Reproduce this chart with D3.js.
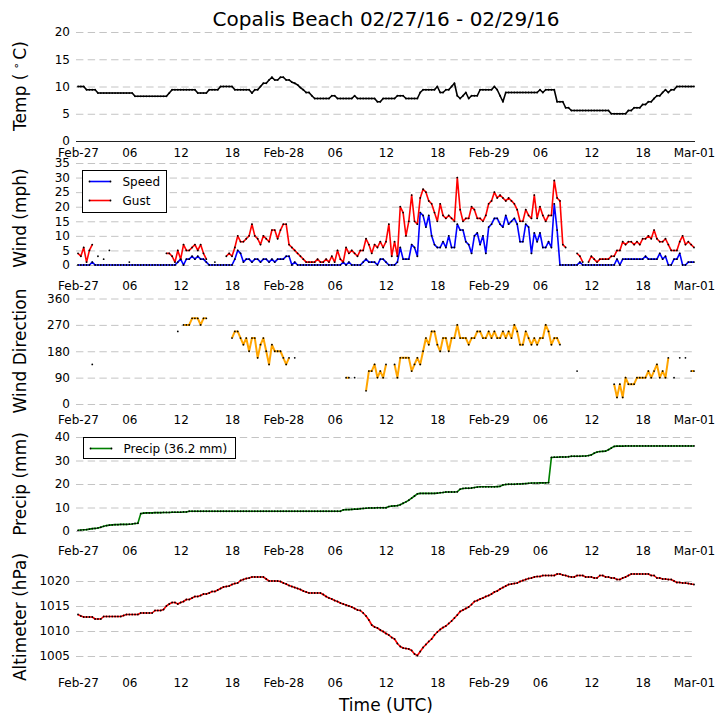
<!DOCTYPE html>
<html>
<head>
<meta charset="utf-8">
<script src="https://cdn.jsdelivr.net/npm/d3@7"></script>
<style>
  body { margin: 0; background: #fff; }
  svg { display: block; font-family: "DejaVu Sans", sans-serif; }
</style>
</head>
<body>
<div class="container"></div>
<script>
const w = 726;
const h = 725;
const n = null;

// one reading every 20 minutes, 02/27 00:00 UTC -> 03/01 00:00 UTC (217 readings)
const start = Date.UTC(2016, 1, 27);
const stepMin = 20;
const tickLabels = ['Feb-27', '06', '12', '18', 'Feb-28', '06', '12', '18', 'Feb-29', '06', '12', '18', 'Mar-01'];

const temp = [
  10.0, 10.0, 10.0, 9.4, 9.4, 9.4, 9.4, 8.8, 8.8, 8.8, 8.8, 8.8,
  8.8, 8.8, 8.8, 8.8, 8.8, 8.8, 8.8, 8.8, 8.2, 8.2, 8.2, 8.2,
  8.2, 8.2, 8.2, 8.2, 8.2, 8.2, 8.2, 8.2, 8.8, 9.4, 9.4, 9.4,
  9.4, 9.4, 9.4, 9.4, 9.4, 9.4, 8.8, 8.8, 8.8, 8.8, 9.4, 9.4,
  9.4, 9.4, 10.0, 10.0, 10.0, 10.0, 10.0, 9.4, 9.4, 9.4, 9.4, 9.4,
  9.4, 8.8, 9.4, 9.4, 10.0, 10.6, 10.6, 11.2, 11.7, 11.2, 11.2, 11.7,
  11.7, 11.2, 11.2, 10.8, 10.6, 10.3, 9.8, 9.4, 8.9, 8.9, 8.3, 7.8,
  7.8, 7.8, 7.8, 7.8, 7.8, 8.3, 8.3, 7.8, 7.8, 7.8, 7.8, 7.8,
  7.8, 8.3, 7.8, 7.8, 7.8, 7.8, 7.8, 7.8, 7.8, 7.2, 7.2, 7.8,
  7.8, 7.8, 7.8, 7.8, 8.3, 8.3, 8.3, 7.8, 7.8, 7.8, 7.8, 7.8,
  8.9, 9.4, 9.4, 9.4, 9.4, 9.4, 10.0, 8.9, 8.9, 9.4, 9.4, 10.0,
  10.6, 8.3, 7.8, 8.3, 8.9, 7.8, 8.3, 8.3, 8.3, 9.4, 9.4, 9.4,
  9.4, 9.4, 10.0, 9.4, 8.3, 7.2, 8.9, 8.9, 8.9, 8.9, 8.9, 8.9,
  8.9, 8.9, 8.9, 8.9, 8.9, 8.9, 9.4, 8.9, 9.4, 9.4, 9.4, 9.4,
  7.2, 7.2, 7.2, 6.1, 6.1, 5.6, 5.6, 5.6, 5.6, 5.6, 5.6, 5.6,
  5.6, 5.6, 5.6, 5.6, 5.6, 5.6, 5.6, 5.0, 5.0, 5.0, 5.0, 5.0,
  5.0, 5.6, 5.6, 6.1, 6.1, 6.1, 6.7, 6.7, 7.2, 7.2, 7.8, 8.3,
  8.3, 8.9, 9.4, 8.9, 9.4, 9.4, 10.0, 10.0, 10.0, 10.0, 10.0, 10.0,
  10.0
];

const speed = [
  0, 0, 0, 0, 0, 1, 0, 0, 0, 0, 0, 0,
  0, 0, 0, 0, 0, 0, 0, 0, 0, 0, 0, 0,
  0, 0, 0, 0, 0, 0, 0, 0, 0, 0, 0, 1,
  2, 0, 2, 2, 3, 2, 3, 2, 2, 1, 0, 0,
  0, 0, 0, 0, 0, 0, 0, 2, 5, 4, 1, 2,
  2, 1, 2, 2, 1, 2, 2, 1, 2, 1, 2, 2,
  2, 3, 3, 0, 1, 0, 0, 0, 0, 0, 0, 0,
  0, 0, 0, 0, 0, 0, 0, 0, 0, 1, 0, 1,
  0, 0, 0, 0, 1, 2, 1, 1, 1, 0, 2, 2,
  1, 0, 0, 0, 1, 6, 2, 2, 2, 7, 6, 3,
  18, 17, 13, 17, 10, 7, 6, 6, 8, 6, 10, 6,
  6, 14, 12, 12, 8, 7, 4, 10, 11, 7, 10, 4,
  13, 14, 16, 16, 14, 13, 17, 14, 15, 16, 14, 8,
  8, 14, 13, 4, 11, 8, 11, 6, 6, 8, 6, 21,
  12, 0, 0, 0, 0, 0, 0, 0, 1, 0, 0, 0,
  0, 0, 0, 0, 0, 0, 0, 0, 0, 2, 0, 2,
  2, 2, 2, 2, 2, 2, 2, 3, 2, 2, 2, 2,
  4, 2, 3, 0, 0, 2, 2, 4, 0, 0, 1, 1,
  1
];

const gust = [
  4, 3, 6, 1, 5, 7, n, 3, n, 2, n, 5,
  n, n, n, n, n, n, 1, n, n, n, n, n,
  n, n, n, n, n, n, n, 4, 4, 3, 1, 5,
  2, 7, 5, 5, 6, 7, 5, 7, 4, 2, n, n,
  1, n, n, n, 3, 4, 3, 6, 10, 8, 8, 9,
  10, 14, 10, 9, 7, 10, 9, 8, 12, 12, 9, 12,
  14, 14, 7, 6, 5, 4, 3, 2, 1, 1, 1, 1,
  2, 1, 1, 2, 1, 3, 1, 5, 2, 1, 6, 4,
  5, 4, 3, 5, 5, 9, 7, 4, 7, 6, 8, 6,
  8, 14, 3, 8, 3, 20, 18, 10, 15, 24, 15, 14,
  23, 26, 25, 22, 21, 18, 15, 21, 17, 16, 17, 16,
  15, 30, 19, 15, 16, 16, 20, 19, 16, 16, 15, 17,
  21, 22, 25, 23, 24, 23, 22, 23, 22, 21, 19, 15,
  15, 19, 17, 16, 24, 16, 20, 17, 15, 17, 17, 29,
  23, 22, 7, 6, n, n, n, 4, 3, 1, n, 1,
  3, 2, 1, 2, 2, 2, 2, 3, 3, 5, 5, 8,
  7, 8, 8, 7, 8, 7, 9, 9, 10, 9, 12, 9,
  8, 8, 9, 7, 5, 5, 5, 8, 10, 7, 8, 7,
  6
];

const direction = [
  n, n, n, n, n, 135, n, n, n, n, n, n,
  n, n, n, n, n, n, n, n, n, n, n, n,
  n, n, n, n, n, n, n, n, n, n, n, 247.5,
  n, 270, 270, 270, 292.5, 292.5, 292.5, 270, 292.5, 292.5, n, n,
  n, n, n, n, n, n, 225, 247.5, 247.5, 225, 202.5, 225,
  180, 225, 225, 157.5, 202.5, 225, 180, 135, 202.5, 180, 180, 180,
  157.5, 135, 157.5, n, 157.5, n, n, n, n, n, n, n,
  n, n, n, n, n, n, n, n, n, n, 90, 90,
  n, 90, n, n, n, 45, 112.5, 112.5, 135, 90, 112.5, 90,
  135, n, n, 135, 90, 157.5, 157.5, 157.5, 157.5, 112.5, 135, 157.5,
  135, 180, 225, 202.5, 247.5, 247.5, 202.5, 180, 225, 225, 180, 225,
  225, 270, 225, 225, 225, 202.5, 225, 225, 247.5, 247.5, 225, 225,
  247.5, 225, 247.5, 225, 225, 247.5, 225, 247.5, 225, 270, 247.5, 202.5,
  202.5, 247.5, 225, 202.5, 225, 202.5, 225, 225, 270, 247.5, 202.5, 225,
  225, 202.5, n, n, n, n, n, 112.5, n, n, n, n,
  n, n, n, n, n, n, n, n, 67.5, 22.5, 67.5, 22.5,
  90, 67.5, 67.5, 67.5, 90, 90, 90, 90, 112.5, 90, 112.5, 135,
  90, 112.5, 90, 157.5, n, 90, n, 157.5, n, 157.5, n, 112.5,
  112.5
];

const precip = [
  0.3, 0.4, 0.5, 0.6, 0.8, 1.0, 1.1, 1.3, 1.6, 2.0, 2.3, 2.5,
  2.6, 2.7, 2.7, 2.8, 2.8, 2.8, 2.9, 3.0, 3.2, 3.3, 7.4, 7.6,
  7.7, 7.7, 7.7, 7.8, 7.8, 7.8, 7.9, 7.9, 7.9, 8.0, 8.0, 8.0,
  8.0, 8.1, 8.1, 8.4, 8.4, 8.4, 8.4, 8.4, 8.4, 8.4, 8.4, 8.4,
  8.4, 8.4, 8.4, 8.4, 8.4, 8.4, 8.4, 8.4, 8.4, 8.4, 8.4, 8.4,
  8.4, 8.4, 8.4, 8.4, 8.4, 8.4, 8.4, 8.4, 8.4, 8.4, 8.4, 8.4,
  8.4, 8.4, 8.4, 8.4, 8.4, 8.4, 8.4, 8.4, 8.4, 8.4, 8.4, 8.4,
  8.4, 8.4, 8.4, 8.4, 8.4, 8.4, 8.4, 8.4, 8.4, 9.0, 9.1, 9.1,
  9.2, 9.3, 9.3, 9.5, 9.6, 9.7, 9.8, 9.8, 9.8, 9.9, 9.9, 9.9,
  9.9, 10.4, 10.6, 10.7, 10.8, 11.2, 11.8, 12.4, 13.1, 14.0, 14.9, 15.8,
  16.0, 16.0, 16.0, 16.0, 16.0, 16.0, 16.1, 16.3, 16.4, 16.6, 16.6, 16.6,
  16.6, 16.7, 17.8, 18.1, 18.2, 18.2, 18.3, 18.5, 18.7, 18.8, 18.8, 18.8,
  18.8, 18.8, 18.8, 18.9, 19.0, 19.6, 19.8, 19.9, 19.9, 19.9, 20.0, 20.0,
  20.1, 20.2, 20.3, 20.4, 20.4, 20.4, 20.5, 20.5, 20.5, 20.6, 31.3, 31.4,
  31.4, 31.5, 31.5, 31.5, 31.6, 31.8, 31.8, 31.8, 31.8, 31.9, 31.9, 32.1,
  32.4, 33.1, 33.6, 33.8, 33.9, 34.0, 34.6, 35.3, 36.0, 36.1, 36.1, 36.1,
  36.2, 36.2, 36.2, 36.2, 36.2, 36.2, 36.2, 36.2, 36.2, 36.2, 36.2, 36.2,
  36.2, 36.2, 36.2, 36.2, 36.2, 36.2, 36.2, 36.2, 36.2, 36.2, 36.2, 36.2,
  36.2
];

const altimeter = [
  1013.3, 1013.0, 1012.8, 1012.8, 1012.8, 1012.8, 1012.4, 1012.4, 1012.4, 1012.9, 1012.9, 1012.9,
  1012.9, 1012.9, 1012.9, 1012.9, 1013.1, 1013.3, 1013.3, 1013.3, 1013.3, 1013.3, 1013.6, 1013.6,
  1013.6, 1013.6, 1013.6, 1014.1, 1014.1, 1014.1, 1014.3, 1015.0, 1015.4, 1015.7, 1015.7, 1015.4,
  1015.7, 1015.9, 1016.3, 1016.3, 1016.6, 1016.9, 1016.9, 1017.1, 1017.4, 1017.4, 1017.6, 1017.9,
  1017.9, 1018.2, 1018.5, 1018.8, 1018.9, 1019.0, 1019.3, 1019.5, 1019.6, 1020.1, 1020.3, 1020.5,
  1020.6, 1020.8, 1020.8, 1020.8, 1020.8, 1020.8, 1020.4, 1020.0, 1020.0, 1020.0, 1020.0, 1019.9,
  1019.6, 1019.4, 1019.1, 1018.9, 1018.7, 1018.5, 1018.3, 1018.0, 1017.8, 1017.6, 1017.6, 1017.6,
  1017.6, 1017.6, 1017.3, 1016.9, 1016.6, 1016.4, 1016.1, 1015.9, 1015.6, 1015.4, 1015.2, 1015.0,
  1014.8, 1014.5, 1014.2, 1014.1, 1013.6, 1013.0, 1012.2, 1011.2, 1010.8, 1010.6, 1010.2, 1009.9,
  1009.5, 1009.2, 1008.7, 1008.4, 1007.5, 1006.9, 1006.6, 1006.5, 1006.4, 1006.1, 1005.4, 1005.1,
  1005.9, 1006.7, 1007.3, 1007.9, 1008.4, 1009.2, 1009.8, 1010.3, 1010.7, 1011.0, 1011.5, 1012.0,
  1012.6, 1013.2, 1013.9, 1014.2, 1014.5, 1014.8, 1015.3, 1015.9, 1016.1, 1016.4, 1016.6, 1016.9,
  1017.1, 1017.4, 1017.8, 1018.0, 1018.4, 1018.7, 1019.0, 1019.3, 1019.4, 1019.5, 1019.6, 1019.9,
  1020.1, 1020.3, 1020.5, 1020.6, 1020.8, 1020.9, 1020.9, 1021.1, 1021.1, 1021.1, 1021.1, 1021.1,
  1021.4, 1021.4, 1021.2, 1021.1, 1020.9, 1020.8, 1020.8, 1021.1, 1021.1, 1021.1, 1020.8, 1020.8,
  1020.8, 1020.6, 1020.6, 1021.1, 1021.1, 1020.8, 1020.8, 1020.6, 1020.6, 1020.3, 1020.3, 1020.6,
  1020.8, 1021.1, 1021.4, 1021.4, 1021.4, 1021.4, 1021.4, 1021.4, 1021.4, 1021.1, 1021.1, 1020.6,
  1020.6, 1020.4, 1020.4, 1020.3, 1020.3, 1020.0, 1019.7, 1019.7, 1019.6, 1019.6, 1019.5, 1019.4,
  1019.3
];

let svg = null;
let x = null;

window.onload = function () {
  setSvg();
  drawPanels();
};

function setSvg() {
  svg = d3
    .select('.container')
    .append('svg')
    .attr('width', w)
    .attr('height', h);

  svg.append('rect').attr('width', w).attr('height', h).attr('fill', '#fff');

  x = d3
    .scaleUtc()
    .domain([new Date(start), new Date(start + 72 * 3600 * 1000)])
    .range([78, 694]);
}

function toPoints(values) {
  return values.map((v, i) => ({ t: new Date(start + i * stepMin * 60000), v }));
}

function drawPanels() {
  const panels = [
    { domain: [0, 20], range: [141, 32], ticks: [0, 5, 10, 15, 20], labelY: 86, axisY: 153,
      series: [{ values: temp, color: '#000' }] },
    { domain: [0, 35], range: [265, 163], ticks: [0, 5, 10, 15, 20, 25, 30, 35], labelY: 218, axisY: 286,
      label: 'Wind (mph)',
      series: [{ values: speed, color: '#0000ff' }, { values: gust, color: '#ff0000' }] },
    { domain: [0, 360], range: [404, 298.5], ticks: [0, 90, 180, 270, 360], labelY: 351, axisY: 420,
      label: 'Wind Direction', series: [{ values: direction, color: '#ffa500', width: 2 }] },
    { domain: [0, 40], range: [531, 437], ticks: [0, 10, 20, 30, 40], labelY: 484, axisY: 551,
      label: 'Precip (mm)', series: [{ values: precip, color: '#008000' }] },
    { domain: [1005, 1020], range: [656, 581], ticks: [1005, 1010, 1015, 1020], labelY: 617, axisY: 683,
      label: 'Altimeter (hPa)', series: [{ values: altimeter, color: '#ff0000' }] },
  ];

  panels.forEach((p, k) => {
    const y = d3.scaleLinear().domain(p.domain).range(p.range);
    const g = svg.append('g');

    // dashed grid
    g.selectAll(null)
      .data(p.ticks.filter((t) => !(k === 0 && t === 0)))
      .enter()
      .append('line')
      .attr('x1', 76)
      .attr('x2', 695)
      .attr('y1', (d) => y(d) + 0.5)
      .attr('y2', (d) => y(d) + 0.5)
      .attr('stroke', '#c4c4c4')
      .attr('stroke-width', 1)
      .attr('stroke-dasharray', '7.4,4.3');

    if (k === 0) {
      g.append('line')
        .attr('x1', 76).attr('x2', 695)
        .attr('y1', y(0) + 0.5).attr('y2', y(0) + 0.5)
        .attr('stroke', '#222').attr('stroke-width', 1);
    }

    // y axis
    const ya = g
      .append('g')
      .attr('transform', 'translate(76,0)')
      .call(d3.axisLeft(y).tickValues(p.ticks).tickSize(0).tickPadding(6).tickFormat(d3.format('d')));
    ya.select('.domain').remove();
    ya.selectAll('text').attr('font-size', 12).attr('font-family', 'DejaVu Sans').attr('fill', '#000');

    // x axis
    const xa = g
      .append('g')
      .attr('transform', `translate(0,${p.axisY - 4.3})`)
      .call(
        d3.axisBottom(x)
          .ticks(d3.utcHour.every(6))
          .tickSize(0)
          .tickPadding(0)
          .tickFormat((d, i) => tickLabels[i])
      );
    xa.select('.domain').remove();
    xa.selectAll('text').attr('font-size', 12).attr('font-family', 'DejaVu Sans').attr('fill', '#000');

    // series
    p.series.forEach((s) => {
      const pts = toPoints(s.values);
      const line = d3
        .line()
        .defined((d) => d.v !== null)
        .x((d) => x(d.t))
        .y((d) => y(d.v));
      g.append('path')
        .datum(pts)
        .attr('d', line)
        .attr('fill', 'none')
        .attr('stroke', s.color)
        .attr('stroke-width', s.width || 1.6)
        .attr('stroke-linejoin', 'round');
      g.selectAll(null)
        .data(pts.filter((d) => d.v !== null))
        .enter()
        .append('circle')
        .attr('cx', (d) => x(d.t))
        .attr('cy', (d) => y(d.v))
        .attr('r', 0.9)
        .attr('fill', '#000');
    });

    // y label
    const lab = svg
      .append('text')
      .attr('transform', `translate(26,${p.labelY}) rotate(-90)`)
      .attr('text-anchor', 'middle')
      .attr('font-size', 17)
      .attr('fill', '#000');
    if (k === 0) {
      lab.append('tspan').text('Temp (');
      lab.append('tspan').attr('font-size', 11).attr('dx', 4).attr('dy', -6).text('\u2218');
      lab.append('tspan').attr('dx', 3).attr('dy', 6).text('C)');
    } else {
      lab.text(p.label);
    }
  });

  addLegends();

  svg.append('text')
    .attr('x', 386).attr('y', 26)
    .attr('text-anchor', 'middle')
    .attr('font-size', 20)
    .text('Copalis Beach 02/27/16 - 02/29/16');

  svg.append('text')
    .attr('x', 386).attr('y', 711)
    .attr('text-anchor', 'middle')
    .attr('font-size', 17)
    .text('Time (UTC)');
}

function addLegends() {
  const legends = [
    { x: 82.5, y: 170.5, w: 84, h: 42, items: [['Speed', '#0000ff'], ['Gust', '#ff0000']] },
    { x: 83.5, y: 437.5, w: 152, h: 21, items: [['Precip (36.2 mm)', '#008000']] },
  ];
  legends.forEach((L) => {
    const g = svg.append('g');
    g.append('rect')
      .attr('x', L.x).attr('y', L.y).attr('width', L.w).attr('height', L.h)
      .attr('fill', '#fff').attr('stroke', '#000').attr('stroke-width', 1);
    L.items.forEach(([name, color], i) => {
      const cy = L.y + 11 + i * 19;
      g.append('line')
        .attr('x1', L.x + 7).attr('x2', L.x + 28)
        .attr('y1', cy).attr('y2', cy)
        .attr('stroke', color).attr('stroke-width', 1.6);
      [L.x + 7, L.x + 28].forEach((cx) =>
        g.append('circle').attr('cx', cx).attr('cy', cy).attr('r', 0.9).attr('fill', '#000')
      );
      g.append('text')
        .attr('x', L.x + 40).attr('y', cy).attr('dy', '0.35em')
        .attr('font-size', 12)
        .text(name);
    });
  });
}
</script>
</body>
</html>
